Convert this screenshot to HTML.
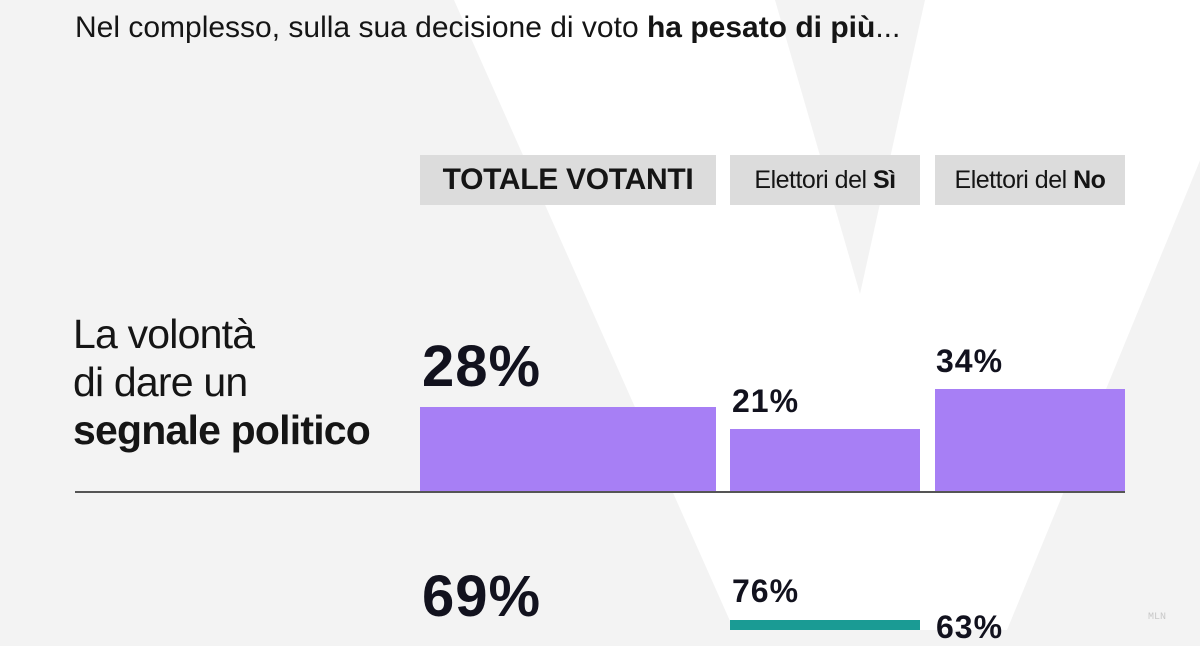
<!DOCTYPE html>
<html><head><meta charset="utf-8"><style>
*{margin:0;padding:0}
body{width:1200px;height:630px;overflow:hidden;background:#f3f3f3;position:relative;font-family:"Liberation Sans",sans-serif;color:#151515}
.a{position:absolute;white-space:nowrap}
.box{position:absolute;top:155px;height:50px;background:#dcdcdc;display:flex;align-items:center;justify-content:center}
.bar{position:absolute;background:#a77ff5}
.p{position:absolute;font-weight:bold;color:#12121e;letter-spacing:1px}
</style></head><body>
<svg class="a" style="left:0;top:0" width="1200" height="630"><polygon points="454,0 775,0 860,294 925,0 1266,0 1007,630 734,630" fill="#fff"/></svg>
<div class="a" style="left:75px;top:11px;font-size:30px;letter-spacing:0px">Nel complesso, sulla sua decisione di voto <b>ha pesato di più</b>...</div>
<div class="box" style="left:420px;width:296px;font-size:30px;font-weight:bold;letter-spacing:-0.3px">TOTALE VOTANTI</div>
<div class="box" style="left:730px;width:190px;font-size:25px;letter-spacing:-0.5px">Elettori del&nbsp;<b>Sì</b></div>
<div class="box" style="left:935px;width:190px;font-size:25px;letter-spacing:-0.5px">Elettori del&nbsp;<b>No</b></div>
<div class="a" style="left:73px;top:310px;font-size:41px;line-height:48px;letter-spacing:-0.8px">La volontà<br>di dare un<br><b>segnale politico</b></div>
<div class="bar" style="left:420px;top:407px;width:296px;height:85px"></div>
<div class="bar" style="left:730px;top:429px;width:190px;height:63px"></div>
<div class="bar" style="left:935px;top:389px;width:190px;height:103px"></div>
<div class="a" style="left:75px;top:491px;width:1050px;height:2px;background:#555"></div>
<div class="p" style="left:422px;top:333px;font-size:58px">28%</div>
<div class="p" style="left:732px;top:383px;font-size:32px">21%</div>
<div class="p" style="left:936px;top:343px;font-size:32px">34%</div>
<div class="p" style="left:422px;top:563px;font-size:58px">69%</div>
<div class="p" style="left:732px;top:573px;font-size:32px">76%</div>
<div class="bar" style="left:730px;top:620px;width:190px;height:10px;background:#1a9b94"></div>
<div class="p" style="left:936px;top:609px;font-size:32px">63%</div>
<div class="a" style="left:1148px;top:612px;font-size:10px;color:#c8c8c8;font-family:'Liberation Mono',monospace">MLN</div>
</body></html>
